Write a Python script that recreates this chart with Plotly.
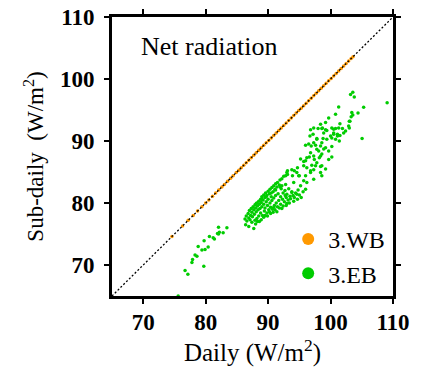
import plotly.graph_objects as go

# ---- data ----
wb_daily = [74.6, 76.3, 77.2, 78.0, 78.7, 79.4, 80.0, 80.5, 81.1, 81.6, 82.1, 82.6, 83.0, 83.5,
            84.0, 84.4, 84.9, 85.3, 85.7, 86.1, 86.5, 86.9, 87.3, 87.7, 88.1, 88.5, 88.9, 89.3,
            89.7, 90.1, 90.5, 90.9, 91.3, 91.7, 92.1, 92.5, 92.9, 93.3, 93.7, 94.1, 94.5, 94.9,
            95.3, 95.7, 96.1, 96.5, 96.9, 97.3, 97.7, 98.1, 98.5, 98.9, 99.3, 99.7, 100.1, 100.5,
            100.9, 101.3, 101.7, 102.1, 102.5, 102.9, 103.3, 103.6]
wb_subdaily = [74.6, 76.3, 77.2, 78.0, 78.7, 79.4, 80.0, 80.5, 81.1, 81.6, 82.1, 82.6, 83.0, 83.5,
               84.0, 84.4, 84.9, 85.3, 85.7, 86.1, 86.5, 86.9, 87.3, 87.7, 88.1, 88.5, 88.9, 89.3,
               89.7, 90.1, 90.5, 90.9, 91.3, 91.7, 92.1, 92.5, 92.9, 93.3, 93.7, 94.1, 94.5, 94.9,
               95.3, 95.7, 96.1, 96.5, 96.9, 97.3, 97.7, 98.1, 98.5, 98.9, 99.3, 99.7, 100.1, 100.5,
               100.9, 101.3, 101.7, 102.1, 102.5, 102.9, 103.3, 103.6]

eb_pairs = [
    # lower-left sparse group
    (75.6, 65.0), (76.7, 69.1), (77.15, 68.5), (77.8, 70.4), (77.9, 70.9), (78.3, 71.6), (78.6, 71.4),
    (78.8, 73.0), (79.4, 72.4), (79.9, 72.5), (79.7, 69.8), (79.75, 73.9), (80.4, 72.9),
    (80.6, 74.6), (81.2, 74.4), (81.4, 74.2), (82.06, 75.0), (81.9, 75.1), (82.2, 75.3),
    (82.8, 75.2), (82.06, 76.08), (83.4, 76.0),
    # dense cluster
    (86.3, 77.4), (86.5, 77.9), (86.6, 77.1), (86.8, 78.3), (86.9, 77.6), (87.0, 78.8), (87.1, 77.3),
    (87.2, 78.0), (87.3, 79.1), (87.4, 78.5), (87.5, 77.8), (87.6, 79.4), (87.7, 78.9), (87.8, 78.2),
    (87.9, 79.7), (88.0, 76.6), (88.0, 79.2), (88.1, 78.6), (88.2, 80.0), (88.2, 77.5), (88.3, 79.5),
    (88.4, 78.9), (88.5, 80.3), (88.5, 77.9), (88.6, 79.8), (88.7, 79.1), (88.8, 80.6), (88.8, 78.4),
    (88.9, 80.1), (89.0, 79.4), (89.0, 81.0), (89.1, 78.0), (89.2, 80.5), (89.3, 79.8), (89.3, 81.3),
    (89.4, 78.7), (89.5, 80.9), (89.5, 79.2), (89.6, 81.6), (89.7, 80.2), (89.8, 78.4), (89.8, 81.2),
    (89.9, 79.6), (90.0, 81.9), (90.0, 80.6), (90.1, 78.9), (90.2, 81.5), (90.3, 80.0), (90.3, 82.2),
    (90.4, 79.3), (90.5, 81.0), (90.6, 82.5), (90.6, 80.4), (90.7, 79.0), (90.8, 81.8), (90.9, 82.8),
    (90.9, 80.8), (91.0, 79.6), (91.1, 82.2), (91.2, 83.1), (91.2, 81.2), (91.3, 80.0), (91.4, 82.6),
    (91.5, 79.4), (91.5, 83.3), (91.6, 81.5), (91.7, 80.4), (91.8, 82.9), (91.9, 83.7), (92.0, 81.0),
    (92.0, 79.8), (92.1, 82.3), (92.2, 83.9), (92.3, 80.6), (92.4, 81.6), (92.5, 84.3), (92.6, 80.2),
    (92.7, 82.0), (92.8, 83.0), (92.9, 80.9), (93.0, 81.4), (93.1, 84.6), (93.2, 80.5), (93.3, 82.3),
    (93.5, 81.1), (93.6, 80.7), (93.8, 81.8), (94.0, 81.2), (94.2, 80.9), (94.4, 81.6), (94.6, 81.4),
    (94.8, 82.1), (95.0, 81.3),
    # extra scatter inside / below the dense cluster
    (86.4, 76.5), (86.9, 76.2), (87.4, 76.9), (87.7, 75.9), (88.3, 77.0), (88.9, 77.3), (89.3, 77.7),
    (89.9, 77.9), (90.4, 78.3), (90.8, 78.5), (91.1, 78.9), (91.8, 79.2), (92.4, 79.5), (93.0, 79.9),
    (93.4, 80.0), (94.1, 80.3), (94.7, 80.6), (95.3, 80.9), (95.6, 81.8), (96.0, 82.2),
    (87.9, 77.2), (88.6, 77.0), (89.5, 78.0), (90.2, 78.6), (90.9, 79.3), (91.4, 78.6), (92.2, 79.1),
    (92.9, 79.6), (88.1, 79.9), (89.0, 80.6), (89.7, 81.0), (90.5, 81.6), (91.2, 82.1), (91.9, 82.6),
    # middle band
    (93.0, 84.9), (93.8, 85.35), (94.6, 84.9), (95.7, 86.7), (96.2, 85.7), (97.3, 85.35), (96.8, 84.9),
    (98.4, 84.9), (98.6, 84.4), (94.9, 84.4), (95.7, 83.6), (97.3, 83.85), (94.1, 83.3), (95.2, 82.8),
    (96.2, 83.3), (92.75, 81.2), (93.8, 81.7), (92.2, 82.8), (97.8, 86.5), (98.6, 86.0), (97.6, 86.0),
    (96.2, 87.3), (97.3, 87.6), (98.4, 87.6), (96.8, 88.1), (98.1, 88.4), (98.9, 88.7), (97.3, 89.7),
    (96.5, 89.5), (97.8, 90.3), (98.4, 89.2),
    # upper group
    (98.9, 91.3), (99.4, 90.3), (100.0, 90.8), (100.5, 91.3), (100.8, 90.3), (101.1, 90.8),
    (101.4, 90.0), (100.5, 91.9), (101.3, 92.1), (99.4, 91.7), (98.7, 92.1), (97.3, 92.1),
    (98.4, 92.7), (99.7, 93.7), (100.8, 94.3), (101.3, 95.5), (102.4, 91.6), (102.9, 92.4),
    (103.1, 93.2), (103.3, 93.9), (103.56, 94.2), (104.4, 94.5), (105.3, 95.45), (105.05, 90.4),
    (103.2, 97.5), (103.56, 97.86), (103.8, 97.1), (109.06, 96.15),
    (99.2, 93.0), (98.0, 92.0), (96.8, 91.8), (97.2, 91.1), (98.6, 92.0), (99.2, 91.8),
    (100.2, 92.1), (100.8, 92.0), (101.5, 92.8), (101.9, 92.0), (100.5, 91.1), (101.1, 91.1),
    (100.2, 90.5), (101.5, 90.9), (103.0, 92.1), (103.0, 93.2), (103.4, 94.6), (102.1, 91.3),
    (98.8, 90.4), (97.8, 90.4), (96.7, 90.8), (98.6, 89.7), (97.6, 89.3), (96.9, 89.2), (96.0, 89.3),
    (97.8, 88.65), (99.2, 88.9), (100.2, 89.1), (99.7, 88.4), (98.6, 87.9), (98.2, 87.3), (97.4, 87.0),
    (96.6, 87.4), (96.0, 86.8), (95.2, 87.1), (95.7, 86.0), (97.0, 86.1), (98.4, 85.9), (99.2, 85.5),
    (99.7, 87.0), (100.2, 87.4), (96.8, 85.2), (94.7, 85.7), (94.2, 85.2), (93.1, 85.2), (92.8, 84.4),
    (93.9, 84.4), (95.0, 84.4), (96.0, 84.4),
]
eb_daily = [p[0] for p in eb_pairs]
eb_subdaily = [p[1] for p in eb_pairs]

one_to_one = [65, 110]
x_ticks = [70, 80, 90, 100, 110]
y_ticks = [70, 80, 90, 100, 110]

ORANGE = "#FF9900"
GREEN = "#00CC00"
SERIF = "Liberation Serif"

fig = go.Figure()
fig.add_trace(go.Scatter(x=wb_daily, y=wb_subdaily, mode="markers",
                         marker=dict(color=ORANGE, size=3.5, line=dict(width=0)),
                         showlegend=False, hoverinfo="skip"))
fig.add_trace(go.Scatter(x=eb_daily, y=eb_subdaily, mode="markers",
                         marker=dict(color=GREEN, size=3.5, line=dict(width=0)),
                         showlegend=False, hoverinfo="skip"))
fig.add_trace(go.Scatter(x=one_to_one, y=one_to_one, mode="lines",
                         line=dict(color="black", width=1.3, dash="2px,2px"),
                         showlegend=False, hoverinfo="skip"))
# legend entries
fig.add_trace(go.Scatter(x=[None], y=[None], mode="markers", name="3.WB",
                         marker=dict(color=ORANGE, size=12)))
fig.add_trace(go.Scatter(x=[None], y=[None], mode="markers", name="3.EB",
                         marker=dict(color=GREEN, size=12)))

axis_common = dict(
    showline=True, linecolor="black", linewidth=3, mirror="ticks",
    ticks="outside", ticklen=5, tickwidth=2, tickcolor="black",
    showgrid=False, zeroline=False, automargin=False,
    tickfont=dict(family=SERIF, size=23, color="black", weight="bold"),
)

fig.update_xaxes(range=[65, 110], tickvals=x_ticks, ticktext=[str(v) for v in x_ticks],
                 title=dict(text="Daily (W/m<sup>2</sup>)", font=dict(family=SERIF, size=25, color="black"),
                            standoff=0),
                 ticklabelstandoff=-2, **axis_common)
fig.update_yaxes(range=[65, 110], tickvals=y_ticks, ticktext=[str(v) for v in y_ticks],
                 title=dict(text="Sub-daily \u00a0(W/m<sup>2</sup>)", font=dict(family=SERIF, size=23, color="black"),
                            standoff=10),
                 ticklabelstandoff=5, **axis_common)

fig.add_annotation(text="Net radiation", xref="paper", yref="paper", x=0.097, y=0.893,
                   xanchor="left", yanchor="middle", showarrow=False,
                   font=dict(family=SERIF, size=26, color="black"))

fig.update_layout(
    width=425, height=370,
    margin=dict(l=112, r=32, t=17, b=74),
    plot_bgcolor="white", paper_bgcolor="white",
    legend=dict(x=0.99, y=0.0, xanchor="right", yanchor="bottom",
                font=dict(family=SERIF, size=24, color="black"),
                bgcolor="rgba(0,0,0,0)", itemwidth=30, tracegroupgap=0),
)

fig.write_html("out.html")
